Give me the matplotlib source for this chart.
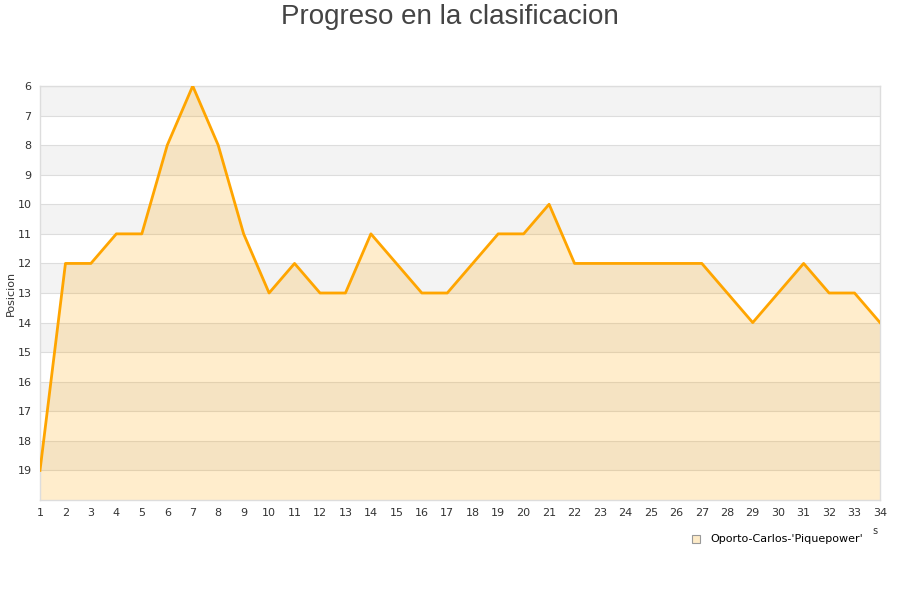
import matplotlib
matplotlib.use("Agg")
import matplotlib.pyplot as plt
import numpy as np

plt.rcParams["font.family"] = ["DejaVu Sans"]

jornadas = list(range(1, 35))
posicion = [19, 12, 12, 11, 11, 8, 6, 8, 11, 13, 12, 13, 13, 11, 12, 13, 13,
            12, 11, 11, 10, 12, 12, 12, 12, 12, 12, 13, 14, 13, 12, 13, 13, 14]
equipo = "Oporto-Carlos-'Piquepower'"
titulo = "Progreso en la clasificacion"
y_ticks = list(range(6, 20))

Y_TOP, Y_BOTTOM = 6, 20
LINE = "#FFA500"

fig = plt.figure(figsize=(9, 6), dpi=100)
ax = fig.add_axes([40 / 900, 1 - 500 / 600, 840 / 900, 414 / 600])

# alternating bands
for y0 in range(Y_TOP, Y_BOTTOM, 2):
    ax.axhspan(y0, y0 + 1, color="#f3f3f3", zorder=0, lw=0)
for y in range(Y_TOP, Y_BOTTOM):
    ax.axhline(y, color="#dddddd", lw=0.8, zorder=1)

ax.fill_between(jornadas, posicion, Y_BOTTOM, color=LINE, alpha=0.2,
                lw=0, zorder=2)
ax.plot(jornadas, posicion, color=LINE, lw=2, zorder=3)

ax.set_xlim(1, 34)
ax.set_ylim(Y_BOTTOM, Y_TOP)
ax.set_xticks(jornadas)
ax.set_yticks(y_ticks)
ax.tick_params(length=0, labelsize=8, colors="#333333", pad=6)
for s in ax.spines.values():
    s.set_color("#dddddd")
    s.set_linewidth(1)

ax.set_ylabel("Posicion", fontsize=8, color="#333333")
ax.yaxis.set_label_coords(-24 / 840, 0.5)

fig.text(0.5, 1 - 17 / 600, titulo, ha="center", va="center",
         fontsize=20, color="#444444", family="Liberation Sans")

# clipped x-axis title fragment
fig.text(875 / 900, 1 - 531 / 600, "s", ha="center", va="center",
         fontsize=7, color="#333333")

# legend
fig.patches.append(plt.Rectangle((692 / 900, 1 - 543 / 600), 8 / 900, 8 / 600,
                                 transform=fig.transFigure,
                                 facecolor="#fdebc8", edgecolor="#999999",
                                 lw=0.8))
fig.text(710 / 900, 1 - 539 / 600, equipo, ha="left", va="center",
         fontsize=8, color="#000000")

fig.savefig("out.png", dpi=100)
